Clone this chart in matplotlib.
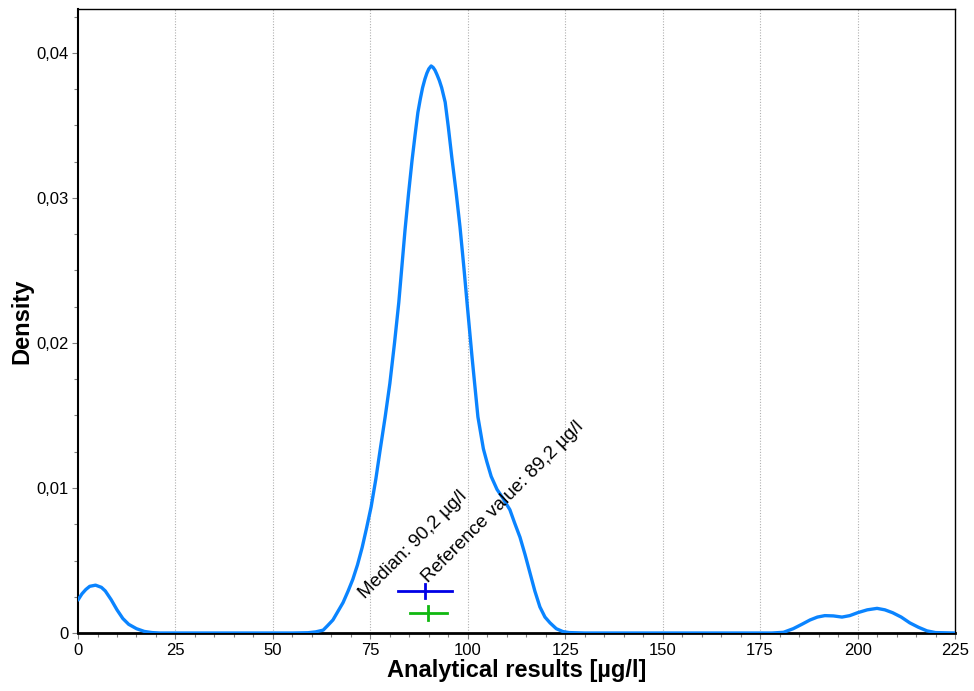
import matplotlib
matplotlib.use("Agg")
import matplotlib.pyplot as plt
from matplotlib.ticker import MultipleLocator, FuncFormatter

plt.rcParams['font.family'] = ['Liberation Sans', 'DejaVu Sans']

# Density curve
conc = [0, 1, 2, 3, 4.5, 6, 7, 8.5, 10, 11.5, 13, 15, 17, 19, 21, 30, 40, 50, 55, 59, 61,
        62.9, 64, 65.4, 66.7, 68, 69.3, 70.5, 71.7, 72.9, 74, 75.2, 76.4, 77.5, 78.8, 80,
        81.2, 82.3, 83.1, 83.9, 84.8, 85.7, 86.5, 87.2, 87.8, 88.4, 89, 89.5, 90, 90.6,
        91.1, 91.6, 92.1, 92.7, 93.3, 94.2, 95, 95.9, 97, 98, 99, 99.8, 101.1, 102.6, 104,
        104.9, 106, 107.5, 109, 110.8, 112, 113.4, 114.7, 116, 117.2, 118.5, 119.8, 121.1,
        122.7, 124.4, 126, 130, 150, 170, 178, 181, 183.5, 185.7, 187.8, 189.7, 191.6,
        193.8, 196, 198, 200, 202.5, 205, 207, 209, 211.2, 213.4, 215.6, 217.8, 220, 225]
density = [0.00228, 0.0027, 0.0030, 0.00322, 0.0033, 0.00315, 0.0029, 0.0023, 0.0016, 0.0010,
           0.0006, 0.0003, 0.00011, 0.00003, 0.0, 0.0, 0.0, 0.0, 0.0, 0.00002, 0.00008,
           0.0002, 0.0005, 0.0009, 0.0015, 0.0021, 0.0029, 0.0037, 0.0047, 0.0059, 0.0072,
           0.0087, 0.0106, 0.0126, 0.0149, 0.0172, 0.0200, 0.0228, 0.0253, 0.0278, 0.0303,
           0.0326, 0.0344, 0.0359, 0.0368, 0.0376, 0.0382, 0.0386, 0.0389, 0.0391, 0.0390,
           0.0388, 0.0385, 0.0381, 0.0376, 0.0366, 0.0349, 0.0328, 0.0304, 0.0280, 0.0252,
           0.0228, 0.0190, 0.0149, 0.0127, 0.0118, 0.0108, 0.0099, 0.0093, 0.0085, 0.0076,
           0.0066, 0.0054, 0.0041, 0.0029, 0.0018, 0.0011, 0.0007, 0.0003, 0.0001, 0.00003,
           0.0, 0.0, 0.0, 0.0, 0.00005, 0.0003, 0.0006, 0.0009, 0.0011, 0.0012, 0.00118,
           0.0011, 0.0012, 0.0014, 0.0016, 0.0017, 0.0016, 0.0014, 0.0011, 0.0007, 0.0004,
           0.00015, 0.00003, 0.0]

# Interval markers (center, half width, level)
marker_centers = [89.0, 89.8]
marker_halfwidths = [6.9, 4.75]
marker_levels = [0.0029, 0.00138]
marker_colors = ['#0000E6', '#10B810']

labels = ['Median: 90,2 µg/l', 'Reference value: 89,2 µg/l']
label_x = [73.6, 89.8]
label_y = [0.00236, 0.00345]

x_ticks = [0, 25, 50, 75, 100, 125, 150, 175, 200, 225]
y_ticks = [0, 0.01, 0.02, 0.03, 0.04]

fig = plt.figure(figsize=(9.74, 6.91), dpi=100)
ax = fig.add_axes([0.0801, 0.0839, 0.9004, 0.9031])

ax.set_xlim(0, 225)
ax.set_ylim(0, 0.04303)

for xt in x_ticks[1:-1]:
    ax.axvline(xt, color='#b0b0b0', linestyle=(0, (1, 1.5)), linewidth=0.8, zorder=0)

ax.plot(conc, density, color='#0A84FF', linewidth=2.4, solid_joinstyle='round',
        solid_capstyle='round', zorder=3)

tick_h = 0.00048
for c, hw, lv, col in zip(marker_centers, marker_halfwidths, marker_levels, marker_colors):
    ax.plot([c - hw, c + hw], [lv, lv], color=col, linewidth=2.0, zorder=4)
    ax.plot([c, c], [lv - tick_h, lv + tick_h], color=col, linewidth=2.0, zorder=4)

for t, tx, ty in zip(labels, label_x, label_y):
    ax.text(tx, ty, t, rotation=45, rotation_mode='anchor', ha='left', va='baseline',
            fontsize=13.6, color='black', zorder=5)

ax.set_xticks(x_ticks)
ax.set_yticks(y_ticks)
ax.xaxis.set_minor_locator(MultipleLocator(5))
ax.yaxis.set_minor_locator(MultipleLocator(0.0025))
ax.yaxis.set_major_formatter(FuncFormatter(lambda v, p: '0' if v == 0 else f'{v:.2f}'.replace('.', ',')))
ax.tick_params(axis='both', which='major', direction='out', length=4, width=0.8,
               color='#808080', labelsize=12, pad=3)
ax.tick_params(axis='both', which='minor', direction='out', length=3, width=0.8,
               color='#808080')

for s in ['top', 'right']:
    ax.spines[s].set_linewidth(1.0)
    ax.spines[s].set_color('black')
ax.spines['left'].set_linewidth(1.5)
ax.spines['bottom'].set_linewidth(2.0)

ax.set_xlabel('Analytical results [µg/l]', fontsize=17, fontweight='bold', labelpad=1)
ax.set_ylabel('Density', fontsize=17, fontweight='bold', labelpad=2)

fig.savefig('out.png', dpi=100)
